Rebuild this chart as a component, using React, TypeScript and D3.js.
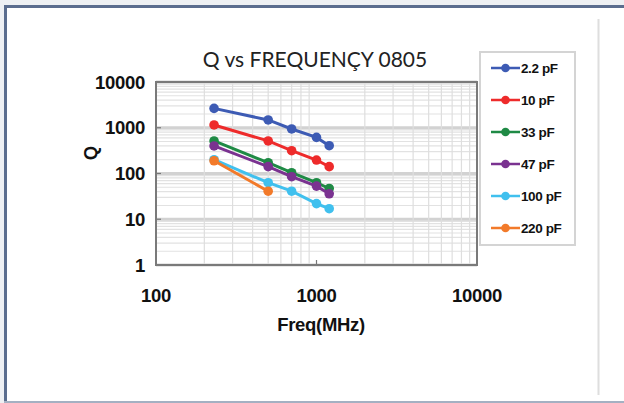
import React from "react";
import * as d3 from "d3";

const title = "Q vs FREQUENÇY 0805";
const freqs = [230, 500, 700, 1000, 1200];
const seriesNames = ["2.2 pF", "10 pF", "33 pF", "47 pF", "100 pF", "220 pF"];
const seriesColors = ["#3d5bb4", "#ee2b2b", "#1f8a45", "#7a3290", "#40c0ee", "#f27a2a"];
const q22 = [2650, 1480, 940, 615, 405];
const q10 = [1150, 515, 315, 197, 141];
const q33 = [515, 172, 104, 63, 47];
const q47 = [400, 141, 85, 53, 36];
const q100 = [200, 63, 41, 22, 17];
const q220 = [190, 41];
const seriesValues = [q22, q10, q33, q47, q100, q220];
const xTicks = [100, 1000, 10000];
const yTicks = [1, 10, 100, 1000, 10000];

export default function App() {
  const W = 624, H = 403;
  const x = d3.scaleLog().domain([100, 10000]).range([156, 477]);
  const y = d3.scaleLog().domain([1, 10000]).range([265, 82]);
  const minorX: number[] = [];
  for (let d = 100; d < 10000; d *= 10) for (let k = 2; k <= 9; k++) minorX.push(d * k);
  const minorY: number[] = [];
  for (let d = 1; d < 10000; d *= 10) for (let k = 2; k <= 9; k++) minorY.push(d * k);
  const line = d3.line<[number, number]>().x(d => x(d[0])).y(d => y(d[1]));
  const bold = "'Liberation Sans', Arial, sans-serif";
  return (
    <svg width={W} height={H} style={{ position: "absolute", left: 0, top: 0 }} fontFamily={bold}>
      <rect x={0} y={0} width={W} height={H} fill="#eef0f3" />
      <rect x={4} y={5} width={W - 4} height={396} fill="#ffffff" />
      <line x1={4} x2={W} y1={6.5} y2={6.5} stroke="#5b6d8e" strokeWidth={3} />
      <line x1={5.5} x2={5.5} y1={5} y2={401} stroke="#5b6d8e" strokeWidth={3} />
      <line x1={4} x2={W} y1={402} y2={402} stroke="#a4b0c2" strokeWidth={2} />
      <line x1={598.5} x2={598.5} y1={19} y2={395} stroke="#dedede" strokeWidth={2} />

      <text x={315} y={67} textAnchor="middle" fontFamily="Lato, 'Open Sans', sans-serif" fontSize={21} fill="#222">{title}</text>

      <rect x={156} y={82} width={321} height={183} fill="#fff" />
      {minorY.map(v => (
        <line key={"my" + v} x1={156} x2={477} y1={y(v)} y2={y(v)} stroke="#e2e2e2" strokeWidth={1.2} />
      ))}
      {yTicks.map(v => (
        <line key={"my" + v} x1={156} x2={477} y1={y(v)} y2={y(v)} stroke="#d2d2d2" strokeWidth={3} />
      ))}
      {minorX.map(v => (
        <line key={"mx" + v} x1={x(v)} x2={x(v)} y1={82} y2={265} stroke="#dedede" strokeWidth={1.2} />
      ))}
      {yTicks.map(v => (
        <line key={"ty" + v} x1={156} x2={161} y1={y(v)} y2={y(v)} stroke="#777" strokeWidth={1.2} />
      ))}
      {xTicks.map(v => (
        <line key={"tx" + v} x1={x(v)} x2={x(v)} y1={265} y2={260} stroke="#777" strokeWidth={1.2} />
      ))}
      <rect x={156} y={82} width={321} height={183} fill="none" stroke="#7a7a7a" strokeWidth={2} />

      {yTicks.map(v => (
        <text key={"yl" + v} x={145} y={y(v)} dy="0.36em" textAnchor="end" fontSize={18.5} fontWeight="bold" letterSpacing={-0.3} fill="#111">{v}</text>
      ))}
      {xTicks.map(v => (
        <text key={"xl" + v} x={x(v)} y={302} textAnchor="middle" fontSize={18.5} fontWeight="bold" letterSpacing={-0.3} fill="#111">{v}</text>
      ))}
      <text x={321} y={331} textAnchor="middle" fontSize={18.5} fontWeight="bold" letterSpacing={-0.3} fill="#111">Freq(MHz)</text>
      <text transform="translate(97,153) rotate(-90)" textAnchor="middle" fontSize={18.5} fontWeight="bold" fill="#111">Q</text>

      {seriesValues.map((vals, i) => {
        const pts: [number, number][] = vals.map((v, j) => [freqs[j], v]);
        return (
          <g key={"s" + i}>
            <path d={line(pts) || ""} fill="none" stroke={seriesColors[i]} strokeWidth={3} />
            {pts.map((p, j) => (
              <circle key={j} cx={x(p[0])} cy={y(p[1])} r={4.8} fill={seriesColors[i]} />
            ))}
          </g>
        );
      })}

      <rect x={480} y={52} width={95} height={193} fill="#fff" stroke="#d4d4d4" strokeWidth={2} />
      {seriesNames.map((n, i) => {
        const ly = 68 + i * 32;
        return (
          <g key={"lg" + i}>
            <line x1={491} x2={520} y1={ly} y2={ly} stroke={seriesColors[i]} strokeWidth={2.5} />
            <circle cx={505.5} cy={ly} r={4.3} fill={seriesColors[i]} />
            <text x={521} y={ly} dy="0.36em" fontSize={13.5} fontWeight="bold" letterSpacing={-0.4} fill="#111">{n}</text>
          </g>
        );
      })}
    </svg>
  );
}
